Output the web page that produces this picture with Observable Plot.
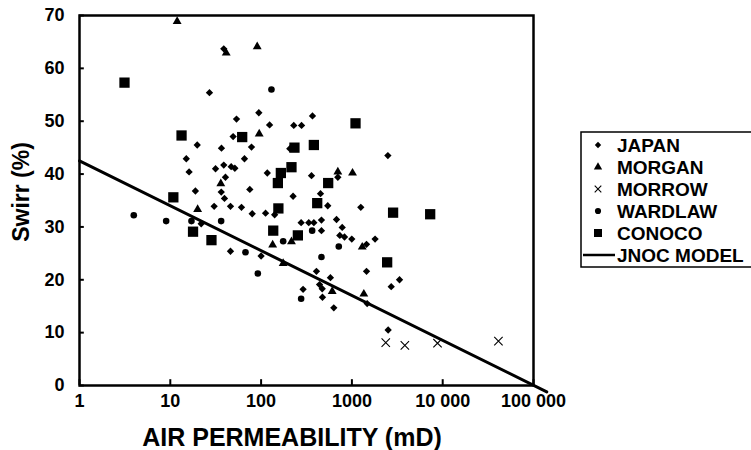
<!DOCTYPE html>
<html><head><meta charset="utf-8">
<script src="https://cdn.jsdelivr.net/npm/d3@7"></script>
<script src="https://cdn.jsdelivr.net/npm/@observablehq/plot@0.6"></script>
<style>
body{margin:0;background:#fff;}
#wrap{position:relative;width:751px;height:450px;overflow:hidden;font-family:"Liberation Sans",Arial,Helvetica,sans-serif;}
#legend{position:absolute;left:0;top:0;pointer-events:none;}
.title{position:absolute;font-weight:bold;color:#000;white-space:nowrap;line-height:1;}
#xtitle{left:292px;top:437px;font-size:25px;transform:translate(-50%,-50%);}
#ytitle{left:21px;top:192px;font-size:23px;transform:translate(-50%,-50%) rotate(-90deg);}
</style></head>
<body><div id="wrap"></div>
<script>
const xTicks = [1, 10, 100, 1000, 10000, 100000];
const xTickLabels = ["1", "10", "100", "1000", "10 000", "100 000"];
const yTicks = [0, 10, 20, 30, 40, 50, 60, 70];
const seriesNames = ["JAPAN", "MORGAN", "MORROW", "WARDLAW", "CONOCO", "JNOC MODEL"];
const xTitle = "AIR PERMEABILITY (mD)";
const yTitle = "Swirr (%)";

const japanK = [38.8, 27, 94.4, 53.6, 368, 124, 229, 279, 49.2, 19.8, 36.6, 207, 78.4, 65.6, 15, 16.1, 31.5, 38.8, 46.8, 51.4, 40.5, 18.9, 36.4, 75.1, 39.5, 117, 359, 225, 451, 2490, 700, 542, 1253, 30.4, 46, 60.8, 79.8, 112, 141, 21.9, 276, 335, 381, 462, 677, 462, 782, 736, 829, 997, 1800, 1449, 46, 100, 1449, 407, 580, 3345, 2710, 290, 471, 474, 632, 1473, 2508, 440];
const japanS = [63.7, 55.4, 51.6, 50.4, 51.0, 49.3, 49.2, 49.2, 47.1, 45.5, 44.9, 44.8, 45.1, 42.9, 42.9, 40.4, 41.0, 41.7, 41.4, 41.1, 39.4, 36.8, 36.6, 37.1, 35.4, 40.2, 39.7, 35.8, 36.3, 43.5, 39.4, 34.0, 33.7, 33.9, 33.9, 33.7, 32.5, 32.6, 32.3, 30.6, 30.8, 30.8, 30.8, 31.3, 31.4, 29.3, 29.9, 28.4, 28.1, 27.7, 27.7, 26.7, 25.4, 24.5, 21.6, 21.6, 20.4, 20.0, 18.7, 18.2, 18.3, 16.7, 14.7, 15.5, 10.5, 19.1];

const morganK = [11.9, 41.3, 90.6, 95.3, 36, 700, 1016, 20, 134, 216, 175, 1300, 607, 1353];
const morganS = [68.9, 62.9, 64.1, 47.6, 38.2, 40.4, 40.2, 33.3, 26.6, 27.2, 23.1, 26.2, 17.8, 17.3];

const morrowK = [2360, 3830, 8770, 41100];
const morrowS = [8.1, 7.6, 8.0, 8.4];

const wardlawK = [130, 365, 717, 462, 276, 3.96, 9.0, 17.1, 36.3, 175, 67.3, 92];
const wardlawS = [56.0, 29.3, 26.3, 24.3, 16.4, 32.2, 31.1, 31.1, 31.1, 27.3, 25.2, 21.2];

const conocoK = [3.13, 13.3, 61.9, 233, 381, 165, 216, 153, 10.8, 1096, 548, 415, 2842, 254, 155, 17.8, 28.4, 136, 2445, 7280];
const conocoS = [57.3, 47.3, 47.0, 45.0, 45.5, 40.2, 41.3, 38.3, 35.6, 49.6, 38.3, 34.5, 32.7, 28.4, 33.5, 29.1, 27.5, 29.3, 23.3, 32.4];

const jnocK = [1, 140000];
const jnocS = [42.5, -1.2];

const toRows = (ks, ss) => ks.map((k, i) => ({k, s: ss[i]}));
const japan = toRows(japanK, japanS);
const morgan = toRows(morganK, morganS);
const morrow = toRows(morrowK, morrowS);
const wardlaw = toRows(wardlawK, wardlawS);
const conoco = toRows(conocoK, conocoS);
const jnoc = toRows(jnocK, jnocS);

const FONT = '"Liberation Sans", Arial, Helvetica, sans-serif';

const chart = Plot.plot({
  width: 751, height: 450,
  marginLeft: 79, marginRight: 218, marginTop: 15, marginBottom: 65,
  x: {type: "log", domain: [1, 100000]},
  y: {domain: [0, 70]},
  style: {fontFamily: FONT, color: "#000", background: "#fff", overflow: "visible"},
  marks: [
    Plot.axisX(xTicks, {tickSize: 0, tickPadding: 9, tickFormat: d => xTickLabels[xTicks.indexOf(d)], fontSize: 18, fontWeight: "bold", label: null}),
    Plot.axisY(yTicks, {tickSize: 0, tickPadding: 15, fontSize: 18, fontWeight: "bold", label: null}),
    Plot.ruleX(xTicks, {y1: 0, y2: 1.1, stroke: "#000", strokeWidth: 2}),
    Plot.ruleY(yTicks, {x1: 1, x2: 1.13, stroke: "#000", strokeWidth: 2}),
    Plot.frame({stroke: "#000", strokeWidth: 2.5}),
    Plot.line(jnoc, {x: "k", y: "s", stroke: "#000", strokeWidth: 3, clip: false}),
    Plot.dot(japan, {x: "k", y: "s", symbol: "diamond2", r: 3.3, fill: "#000", stroke: "none"}),
    Plot.dot(morgan, {x: "k", y: "s", symbol: "triangle", r: 3.3, fill: "#000", stroke: "none"}),
    Plot.dot(morrow, {x: "k", y: "s", symbol: "times", r: 3.9, stroke: "#000", strokeWidth: 1.1, fill: "none"}),
    Plot.dot(wardlaw, {x: "k", y: "s", symbol: "circle", r: 3.3, fill: "#000", stroke: "none"}),
    Plot.dot(conoco, {x: "k", y: "s", symbol: "square", r: 5.8, fill: "#000", stroke: "none"})
  ]
});
const wrap = document.getElementById("wrap");
wrap.appendChild(chart);

const xt = document.createElement("div");
xt.className = "title"; xt.id = "xtitle"; xt.textContent = xTitle;
wrap.appendChild(xt);
const yt = document.createElement("div");
yt.className = "title"; yt.id = "ytitle"; yt.textContent = yTitle;
wrap.appendChild(yt);

// Legend drawn on the right margin
const symbolsFor = [d3.symbolDiamond2, d3.symbolTriangle, d3.symbolTimes, d3.symbolCircle, d3.symbolSquare, null];
const sizesFor = [26, 30, 30, 30, 64, 0];
const lg = d3.select("#wrap").append("svg").attr("id", "legend").attr("width", 751).attr("height", 450);
lg.append("rect").attr("x", 581).attr("y", 132).attr("width", 200).attr("height", 135)
  .attr("fill", "none").attr("stroke", "#000").attr("stroke-width", 1.5);
seriesNames.forEach((name, i) => {
  const cy = 145 + i * 22;
  if (symbolsFor[i]) {
    const isStroke = symbolsFor[i] === d3.symbolTimes;
    lg.append("path").attr("transform", `translate(598,${cy})`)
      .attr("d", d3.symbol(symbolsFor[i], sizesFor[i])())
      .attr("fill", isStroke ? "none" : "#000")
      .attr("stroke", isStroke ? "#000" : "none").attr("stroke-width", 1.1);
  } else {
    lg.append("line").attr("x1", 583).attr("x2", 615).attr("y1", cy).attr("y2", cy)
      .attr("stroke", "#000").attr("stroke-width", 2.5);
  }
  lg.append("text").attr("x", 617).attr("y", cy).attr("dy", "0.36em")
    .attr("font-family", FONT).attr("font-size", 19).attr("font-weight", "bold").attr("fill", "#000")
    .text(name);
});
</script></body></html>
